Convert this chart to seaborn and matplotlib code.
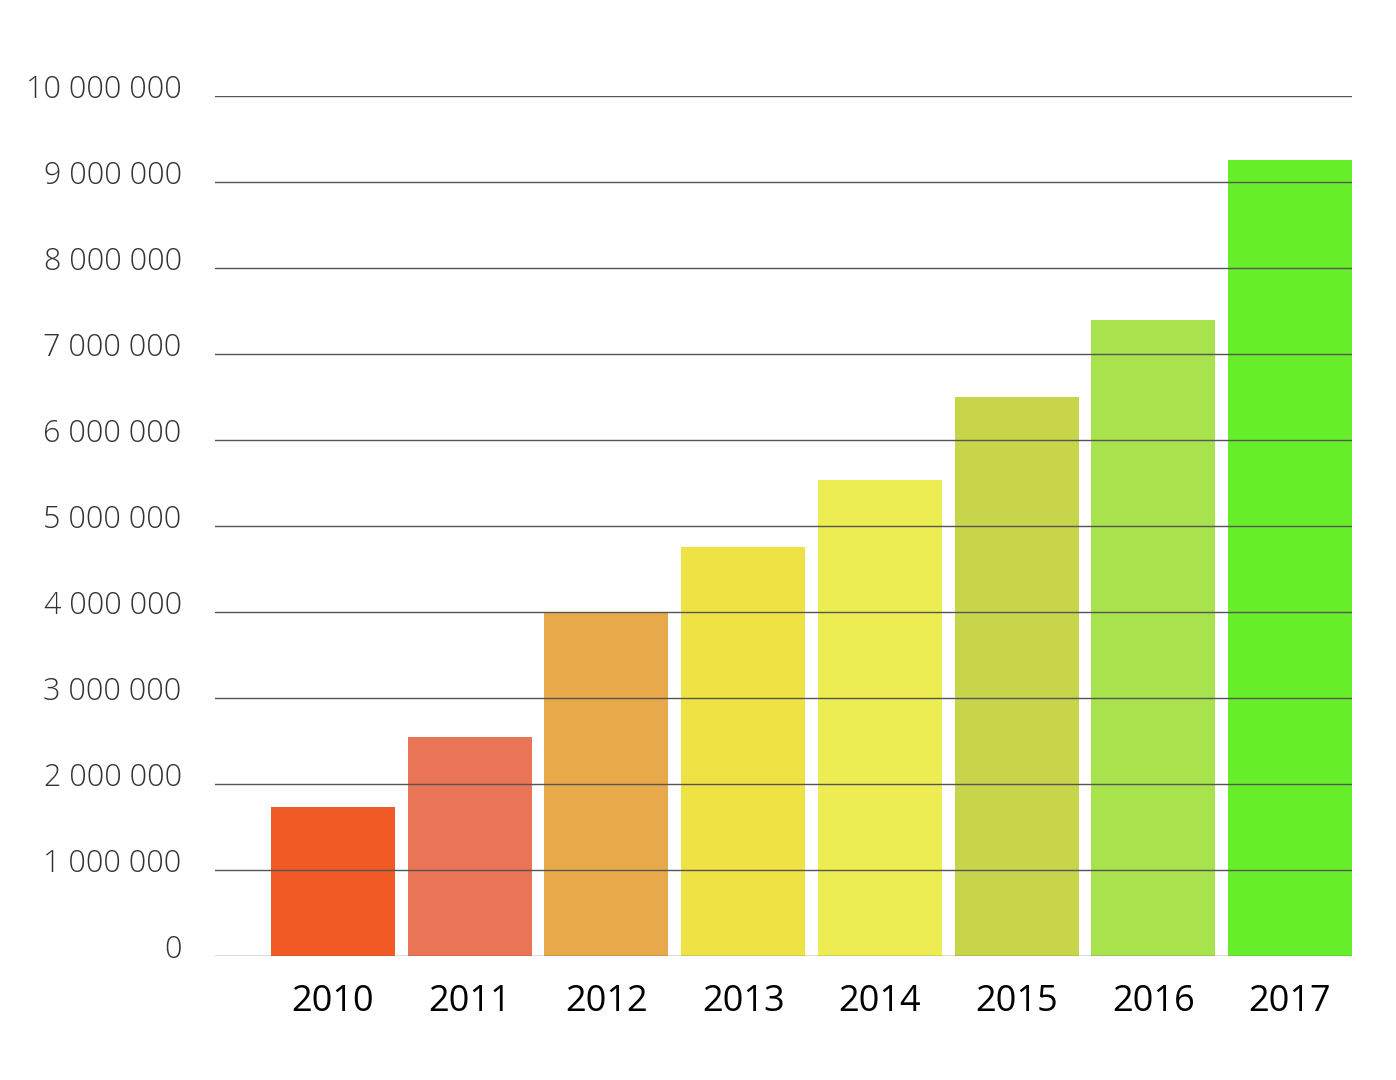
import matplotlib
matplotlib.use("Agg")
import matplotlib.pyplot as plt
import matplotlib.transforms as mtransforms
import pandas as pd
import seaborn as sns

# chart data
years = ["2010", "2011", "2012", "2013", "2014", "2015", "2016", "2017"]
values = [1733000, 2547000, 4000000, 4756000, 5535000, 6500000, 7395000, 9256000]
colors = ["#F15A24", "#EA7556", "#E8A94A", "#EFE245", "#EDEC52", "#C8D44A", "#A8E24D", "#66EE2A"]
y_ticks = list(range(0, 10000001, 1000000))
y_labels = ["0", "1 000 000", "2 000 000", "3 000 000", "4 000 000", "5 000 000",
            "6 000 000", "7 000 000", "8 000 000", "9 000 000", "10 000 000"]

df = pd.DataFrame({"year": years, "value": values})

plt.rcParams["font.family"] = "Open Sans"
fig = plt.figure(figsize=(13.96, 10.8), dpi=100)
ax = fig.add_axes([0.154, 0.1148, 0.8145, 0.7963])

sns.barplot(data=df, x="year", y="value", hue="year", palette=colors,
            width=0.907, saturation=1, legend=False, ax=ax, zorder=2)

ax.set_xlim(-0.863, 7.454)
ax.set_ylim(0, 10000000)
ax.set_yticks(y_ticks)
ax.set_yticklabels(y_labels, fontsize=22, color="#333333", fontweight="light")
ax.tick_params(axis="y", length=0, pad=24)
ax.tick_params(axis="x", length=0, pad=20, labelsize=26, labelcolor="black")
offset = mtransforms.ScaledTranslation(0, 0.1, fig.dpi_scale_trans)
for lbl in ax.get_yticklabels():
    lbl.set_transform(lbl.get_transform() + offset)

ax.grid(axis="y", color="#555555", linewidth=1, zorder=3)
ax.set_axisbelow(False)
for s in ax.spines.values():
    s.set_visible(False)
ax.set_xlabel("")
ax.set_ylabel("")

fig.savefig("out.png", dpi=100, facecolor="white")
